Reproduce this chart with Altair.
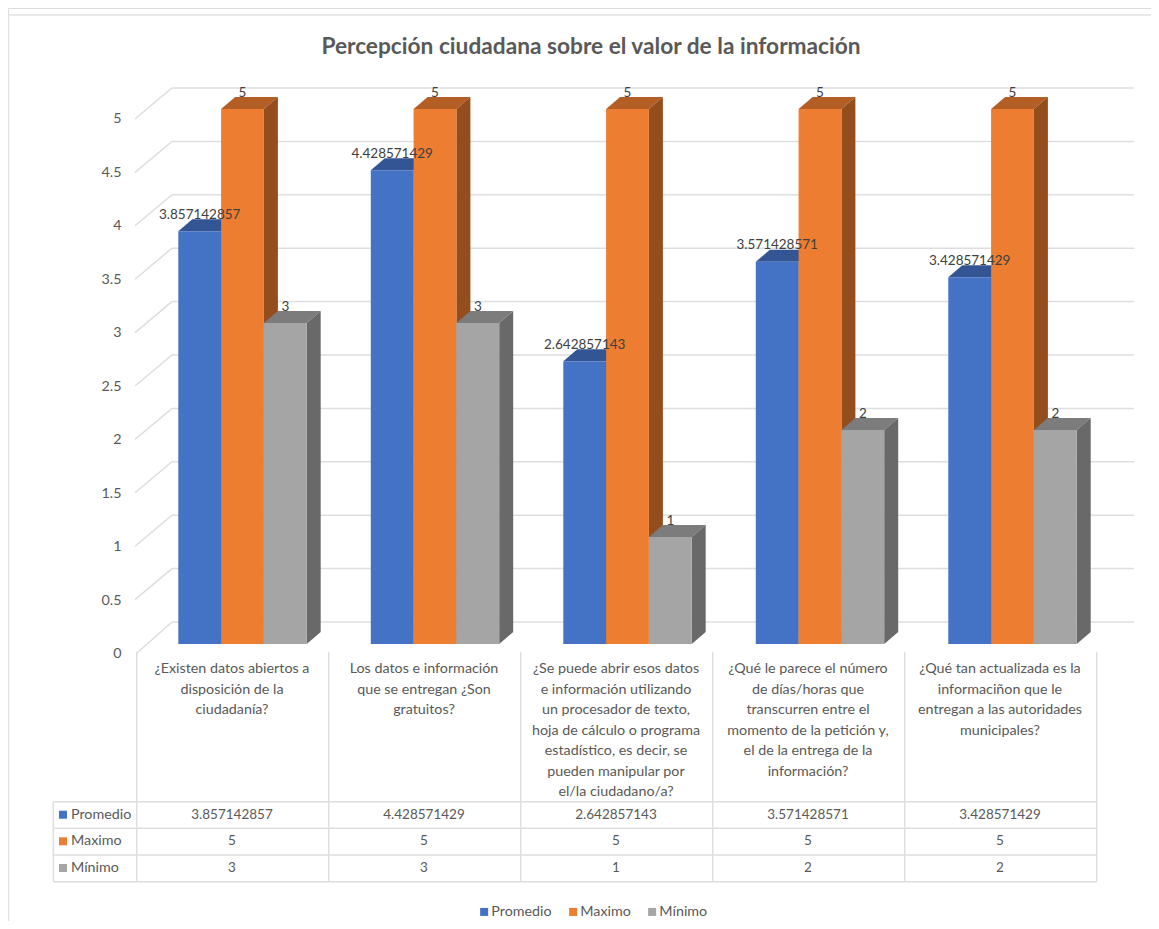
import altair as alt
import pandas as pd

# ---- data ----
series = ["Promedio", "Maximo", "Mínimo"]
promedio = [3.857142857, 4.428571429, 2.642857143, 3.571428571, 3.428571429]
maximo = [5, 5, 5, 5, 5]
minimo = [3, 3, 1, 2, 2]
values = {"Promedio": promedio, "Maximo": maximo, "Mínimo": minimo}
categories = [
    ["¿Existen datos abiertos a", "disposición de la", "ciudadanía?"],
    ["Los datos e información", "que se entregan ¿Son", "gratuitos?"],
    ["¿Se puede abrir esos datos", "e información utilizando", "un procesador de texto,",
     "hoja de cálculo o programa", "estadístico, es decir, se", "pueden manipular por", "el/la ciudadano/a?"],
    ["¿Qué le parece el número", "de días/horas que", "transcurren entre el",
     "momento de la petición y,", "el de la entrega de la", "información?"],
    ["¿Qué tan actualizada es la", "informaciñon que le", "entregan a las autoridades", "municipales?"],
]
y_ticks = [0, 0.5, 1, 1.5, 2, 2.5, 3, 3.5, 4, 4.5, 5]
title_text = "Percepción ciudadana sobre el valor de la información"

front = {"Promedio": "#4472C4", "Maximo": "#ED7D31", "Mínimo": "#A5A5A5"}
top = {"Promedio": "#335593", "Maximo": "#B25E25", "Mínimo": "#7C7C7C"}
side = {"Promedio": "#294476", "Maximo": "#944D1C", "Mínimo": "#696969"}
GRID = "#DEDEDE"
TXT = "#595959"
LAB = "#404040"
FONT = "Lato"
FS = 13.5
FS_TXT = 14.3

# ---- layout, in page pixels ----
W, H = 1143, 913
BASE, UNIT = 644.0, 107.0
def val(py):
    return (BASE - py) / UNIT
xs = alt.Scale(domain=[8, 8 + W], nice=False, zero=False)
ys = alt.Scale(domain=[val(8 + H), val(8)], nice=False, zero=False)
X0, STEP, BW = 178.3, 192.5, 42.8
DX, DY = 14.0, 12.0 / UNIT

X = lambda f="x": alt.X(f"{f}:Q", scale=xs, axis=None)
Y = lambda f="y": alt.Y(f"{f}:Q", scale=ys, axis=None)
layers = []

# frame
frame_h = pd.DataFrame({"x": [8.5], "x2": [8 + W], "y": [val(15)]})
frame_v = pd.DataFrame({"x": [8.5], "y": [val(15)], "y2": [val(8 + H)]})
layers.append(alt.Chart(frame_h).mark_rule(color="#E2E2E2", strokeWidth=1.5).encode(x=X(), x2="x2:Q", y=Y()))
layers.append(alt.Chart(frame_v).mark_rule(color="#E2E2E2", strokeWidth=1.5).encode(x=X(), y=Y(), y2="y2:Q"))

# back wall grid
grid = []
for t in y_ticks:
    back = val(622 - 106.8 * t)
    grid += [
        {"t": t, "o": 0, "x": 135 if t else 137, "y": val(653 - 106.8 * t)},
        {"t": t, "o": 1, "x": 172, "y": back},
        {"t": t, "o": 2, "x": 1134, "y": back},
    ]
layers.append(alt.Chart(pd.DataFrame(grid)).mark_line(color=GRID, strokeWidth=1.5).encode(
    x=X(), y=Y(), detail="t:N", order="o:Q"))

# 3-D columns
for si, s in enumerate(series):
    tops, sides, fronts = [], [], []
    for c, v in enumerate(values[s]):
        a = X0 + c * STEP + si * BW
        b = a + BW
        tops += [
            {"c": c, "x": a, "y": v, "y2": v},
            {"c": c, "x": a + DX, "y": v, "y2": v + DY},
            {"c": c, "x": b, "y": v, "y2": v + DY},
            {"c": c, "x": b + DX, "y": v + DY, "y2": v + DY},
        ]
        sides += [
            {"c": c, "x": b, "y": 0, "y2": v},
            {"c": c, "x": b + DX, "y": DY, "y2": v + DY},
        ]
        fronts.append({"serie": s, "x": a, "x2": b, "y": 0, "y2": v})
    layers.append(alt.Chart(pd.DataFrame(tops)).mark_area(color=top[s], orient="vertical").encode(
        x=X(), y=alt.Y("y:Q", scale=ys, axis=None, stack=None), y2="y2:Q", detail="c:N"))
    layers.append(alt.Chart(pd.DataFrame(sides)).mark_area(color=side[s], orient="vertical").encode(
        x=X(), y=alt.Y("y:Q", scale=ys, axis=None, stack=None), y2="y2:Q", detail="c:N"))
    layers.append(alt.Chart(pd.DataFrame(fronts)).mark_rect().encode(
        x=X(), x2="x2:Q", y=Y(), y2="y2:Q",
        color=alt.Color("serie:N",
                        scale=alt.Scale(domain=series, range=[front[k] for k in series]),
                        legend=alt.Legend(title=None, orient="none", direction="horizontal",
                                          legendX=469, legendY=896.5, symbolType="square",
                                          symbolSize=64, symbolStrokeWidth=0, labelFont=FONT,
                                          labelFontSize=FS_TXT, labelColor=TXT, labelOffset=0,
                                          columnPadding=14, padding=0))))

# y axis (labels only)
axis_df = pd.DataFrame({"y": y_ticks})
layers.insert(0, alt.Chart(axis_df).mark_point(opacity=0).encode(
    x=alt.value(0),
    y=alt.Y("y:Q", scale=ys, title=None,
            axis=alt.Axis(values=y_ticks, labelExpr="datum.value + ''", domain=False, ticks=False,
                          grid=False, labelFont=FONT, labelFontSize=FS_TXT, labelColor=TXT,
                          labelPadding=0, labelOffset=9.5, offset=-113))))

# data labels
labels = []
for si, s in enumerate(series):
    for c, v in enumerate(values[s]):
        labels.append({"x": X0 + c * STEP + si * BW + BW / 2, "y": v, "t": str(v)})
layers.append(alt.Chart(pd.DataFrame(labels)).mark_text(
    font=FONT, fontSize=FS, color=LAB, baseline="middle", dy=-16.5).encode(x=X(), y=Y(), text="t:N"))

# data table
TX0, TSTEP, TLEFT = 136.7, 192.0, 53.3
row_lines = [801.7, 828.3, 855.0, 881.7]
row_mid = [814.7, 841.3, 868.0]
v_rules = [{"x": TX0 + i * TSTEP, "y": val(652), "y2": val(881.7)} for i in range(6)]
v_rules.append({"x": TLEFT, "y": val(801.7), "y2": val(881.7)})
h_rules = [{"y": val(p), "x": TLEFT, "x2": TX0 + 5 * TSTEP} for p in row_lines]
layers.append(alt.Chart(pd.DataFrame(v_rules)).mark_rule(color=GRID, strokeWidth=1.5).encode(x=X(), y=Y(), y2="y2:Q"))
layers.append(alt.Chart(pd.DataFrame(h_rules)).mark_rule(color=GRID, strokeWidth=1.5).encode(x=X(), x2="x2:Q", y=Y()))

cat_lines = []
for c, lines in enumerate(categories):
    for i, line in enumerate(lines):
        cat_lines.append({"x": TX0 + (c + 0.5) * TSTEP - 0.7, "y": val(669 + 20.5 * i), "t": line})
layers.append(alt.Chart(pd.DataFrame(cat_lines)).mark_text(
    font=FONT, fontSize=FS_TXT, color=TXT, baseline="middle").encode(x=X(), y=Y(), text="t:N"))

cells, names = [], []
for si, s in enumerate(series):
    names.append({"x": 71, "kx": 63, "y": val(row_mid[si]), "t": s, "serie": s})
    for c, v in enumerate(values[s]):
        cells.append({"x": TX0 + (c + 0.5) * TSTEP - 0.7, "y": val(row_mid[si]), "t": str(v)})
layers.append(alt.Chart(pd.DataFrame(cells)).mark_text(
    font=FONT, fontSize=FS, color=TXT, baseline="middle").encode(x=X(), y=Y(), text="t:N"))
layers.append(alt.Chart(pd.DataFrame(names)).mark_text(
    font=FONT, fontSize=FS_TXT, color=TXT, baseline="middle", align="left").encode(x=X(), y=Y(), text="t:N"))
layers.append(alt.Chart(pd.DataFrame(names)).mark_square(size=64, opacity=1).encode(
    x=X("kx"), y=Y(), color=alt.Color("serie:N")))

chart = alt.layer(*layers).resolve_scale(x="shared", y="shared", color="shared").resolve_axis(
    y="independent", x="independent").properties(
    width=W, height=H, padding=0, autosize=alt.AutoSizeParams(type="none"),
    title=alt.TitleParams(title_text, font=FONT, fontSize=22.7, fontWeight="bold", color=TXT,
                          anchor="middle", baseline="middle", offset=0, dx=11.5, dy=62),
).configure_view(stroke=None).configure(background="white")

chart.save("out.html", embed_options={"renderer": "svg", "actions": False})
